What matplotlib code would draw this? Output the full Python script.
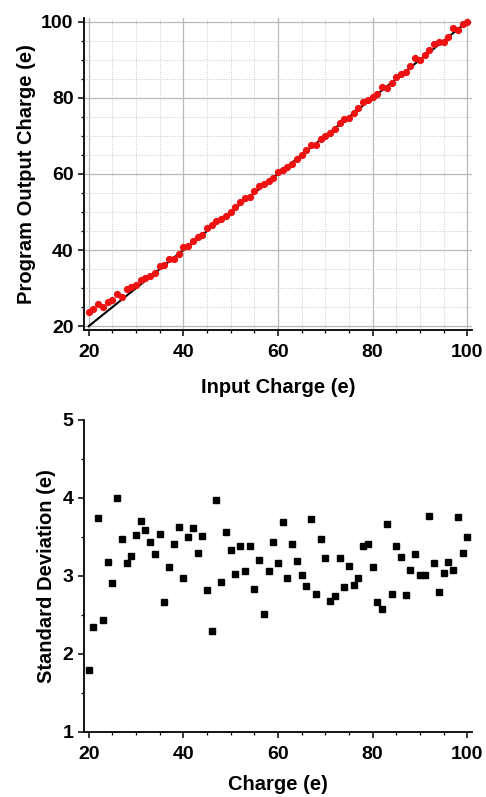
import numpy as np
import matplotlib
matplotlib.use('Agg')
import matplotlib.pyplot as plt
from matplotlib.ticker import MultipleLocator

plt.rcParams['font.family'] = ['Liberation Sans', 'DejaVu Sans']
plt.rcParams['font.weight'] = 'bold'

# top panel: program output vs input charge
input_charge = list(range(20, 101))
output_charge = [
    23.7, 24.6, 25.8, 25.1, 26.3, 27.0, 28.4, 27.7, 29.7, 30.4,
    30.7, 32.1, 32.6, 33.2, 34.0, 35.8, 36.2, 37.6, 37.6, 38.9,
    40.8, 41.05, 42.4, 43.3, 43.9, 45.7, 46.5, 47.6, 48.1, 48.9,
    50.1, 51.4, 52.6, 53.6, 54.0, 55.5, 56.8, 57.3, 58.2, 59.0,
    60.5, 61.05, 61.8, 62.7, 63.9, 65.1, 66.2, 67.6, 67.7, 69.1,
    70.0, 70.7, 71.9, 73.3, 74.4, 74.8, 76.0, 77.3, 79.0, 79.4,
    80.3, 81.0, 82.9, 82.5, 83.9, 85.6, 86.2, 86.8, 88.4, 90.4,
    90.0, 91.2, 92.6, 94.1, 94.6, 94.7, 95.9, 98.3, 97.9, 99.3,
    100.0,
]
ideal_x = [20, 100]
ideal_y = [20, 100]

# bottom panel: standard deviation vs charge
charge = list(range(20, 101))
std_dev = [
    1.80, 2.34, 3.74, 2.43, 3.18, 2.91, 4.00, 3.47, 3.16, 3.25,
    3.53, 3.71, 3.59, 3.43, 3.28, 3.54, 2.67, 3.12, 3.41, 3.63,
    2.97, 3.50, 3.62, 3.29, 3.51, 2.82, 2.29, 3.97, 2.92, 3.56,
    3.33, 3.02, 3.38, 3.06, 3.38, 2.83, 3.20, 2.51, 3.06, 3.43,
    3.17, 3.69, 2.97, 3.41, 3.19, 3.01, 2.87, 3.73, 2.77, 3.47,
    3.23, 2.68, 2.74, 3.23, 2.86, 3.13, 2.88, 2.97, 3.39, 3.41,
    3.11, 2.67, 2.57, 3.66, 2.77, 3.38, 3.24, 2.75, 3.08, 3.28,
    3.01, 3.01, 3.77, 3.17, 2.79, 3.04, 3.18, 3.07, 3.76, 3.29,
    3.50,
]

fig = plt.figure(figsize=(4.86, 7.97), dpi=100)
ax1 = fig.add_axes([0.1728, 0.586, 0.7984, 0.3915])
ax2 = fig.add_axes([0.1728, 0.0816, 0.7984, 0.3915])

ax1.plot(ideal_x, ideal_y, color='black', lw=1.5, zorder=2)
ax1.plot(input_charge, output_charge, 'o', color='#ee1111', ms=4.2, zorder=3)
ax1.set_xlim(19, 101)
ax1.set_ylim(19, 101)
ax1.xaxis.set_major_locator(MultipleLocator(20))
ax1.yaxis.set_major_locator(MultipleLocator(20))
ax1.xaxis.set_minor_locator(MultipleLocator(5))
ax1.yaxis.set_minor_locator(MultipleLocator(5))
ax1.grid(True, which='major', color='#b8b8b8', lw=0.9)
ax1.grid(True, which='minor', color='#c8c8c8', lw=0.7, ls=':')
ax1.set_axisbelow(True)
ax1.set_xlabel('Input Charge (e)', fontsize=14.5, fontweight='bold', labelpad=12)
ax1.set_ylabel('Program Output Charge (e)', fontsize=14.5, fontweight='bold', labelpad=4)

ax2.plot(charge, std_dev, 's', color='black', ms=3.7)
ax2.set_xlim(19, 101)
ax2.set_ylim(1, 5)
ax2.xaxis.set_major_locator(MultipleLocator(20))
ax2.yaxis.set_major_locator(MultipleLocator(1))
ax2.xaxis.set_minor_locator(MultipleLocator(5))
ax2.yaxis.set_minor_locator(MultipleLocator(0.5))
ax2.set_xlabel('Charge (e)', fontsize=14.5, fontweight='bold', labelpad=9)
ax2.set_ylabel('Standard Deviation (e)', fontsize=14.5, fontweight='bold', labelpad=5)

for ax in (ax1, ax2):
    ax.spines['top'].set_visible(False)
    ax.spines['right'].set_visible(False)
    ax.spines['left'].set_linewidth(1.3)
    ax.spines['bottom'].set_linewidth(1.3)
    ax.tick_params(which='major', direction='out', length=4, width=1.1, labelsize=14)
    ax.tick_params(axis='x', which='major', pad=6)
    ax.tick_params(which='minor', direction='out', length=2.5, width=0.9)
    for lab in ax.get_xticklabels() + ax.get_yticklabels():
        lab.set_fontweight('bold')

plt.savefig('out.png', dpi=100)
